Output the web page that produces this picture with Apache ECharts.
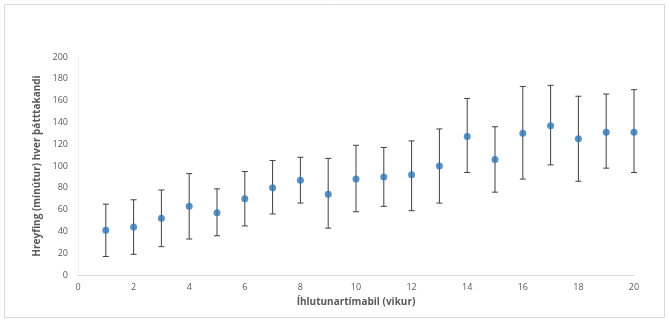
<!DOCTYPE html>
<html>
<head>
<meta charset="utf-8">
<script src="https://cdn.jsdelivr.net/npm/echarts@6/dist/echarts.min.js"></script>
<style>
html,body{margin:0;padding:0;background:#fff;}
#chart{width:669px;height:322px;}
</style>
</head>
<body>
<div id="chart"></div>
<script>
const weeks = [1,2,3,4,5,6,7,8,9,10,11,12,13,14,15,16,17,18,19,20];
const means = [41,44,52,63,57,70,80,87,74,88,90,92,100,127,106,130,137,125,131,131];
const upper = [65,69,78,93,79,95,105,108,107,119,117,123,134,162,136,173,174,164,166,170];
const lower = [17,19,26,33,36,45,56,66,43,58,63,59,66,94,76,88,101,86,98,94];
const xTicks = [0,2,4,6,8,10,12,14,16,18,20];
const yTicks = [0,20,40,60,80,100,120,140,160,180,200];
const xTitle = 'Íhlutunartímabil (vikur)';
const yTitle = 'Hreyfing (mínútur) hver þátttakandi';

const chart = echarts.init(document.getElementById('chart'));
const errData = weeks.map((w,i)=>[w, lower[i], upper[i]]);
const font = '"Open Sans", "Liberation Sans", sans-serif';
chart.setOption({
  animation:false,
  backgroundColor:'#fff',
  graphic:[{type:'rect',shape:{x:4.5,y:4.5,width:660,height:313},style:{fill:'none',stroke:'#d9d9d9',lineWidth:1},silent:true}],
  grid:{left:78,right:35,top:57,bottom:47},
  xAxis:{type:'value',min:0,max:20,interval:2,
    name:xTitle,nameLocation:'middle',nameGap:20,
    nameTextStyle:{color:'#595959',fontSize:10,fontWeight:'bold',fontFamily:font},
    axisLine:{show:true,lineStyle:{color:'#d9d9d9',width:1}},
    axisTick:{show:false},splitLine:{show:false},
    axisLabel:{color:'#595959',fontSize:9,fontFamily:font,margin:8}},
  yAxis:{type:'value',min:0,max:200,interval:20,
    name:yTitle,nameLocation:'middle',nameGap:33,
    nameTextStyle:{color:'#595959',fontSize:10,fontWeight:'bold',fontFamily:font},
    axisLine:{show:true,lineStyle:{color:'#eeeeee',width:1}},
    axisTick:{show:false},splitLine:{show:false},
    axisLabel:{color:'#595959',fontSize:9,fontFamily:font,margin:10}},
  series:[
    {type:'custom',data:errData,z:2,
     renderItem:function(params,api){
       const x=api.value(0);
       const lo=api.coord([x,api.value(1)]);
       const hi=api.coord([x,api.value(2)]);
       const c=3;
       const st={stroke:'#404040',lineWidth:1};
       return {type:'group',children:[
         {type:'line',shape:{x1:lo[0],y1:lo[1],x2:hi[0],y2:hi[1]},style:st},
         {type:'line',shape:{x1:lo[0]-c,y1:lo[1],x2:lo[0]+c,y2:lo[1]},style:st},
         {type:'line',shape:{x1:hi[0]-c,y1:hi[1],x2:hi[0]+c,y2:hi[1]},style:st}
       ]};
     },
     encode:{x:0,y:[1,2]}},
    {type:'scatter',data:weeks.map((w,i)=>[w,means[i]]),symbol:'circle',symbolSize:7,z:3,
     itemStyle:{color:'#2e75b6'}}
  ]
});
</script>
</body>
</html>
